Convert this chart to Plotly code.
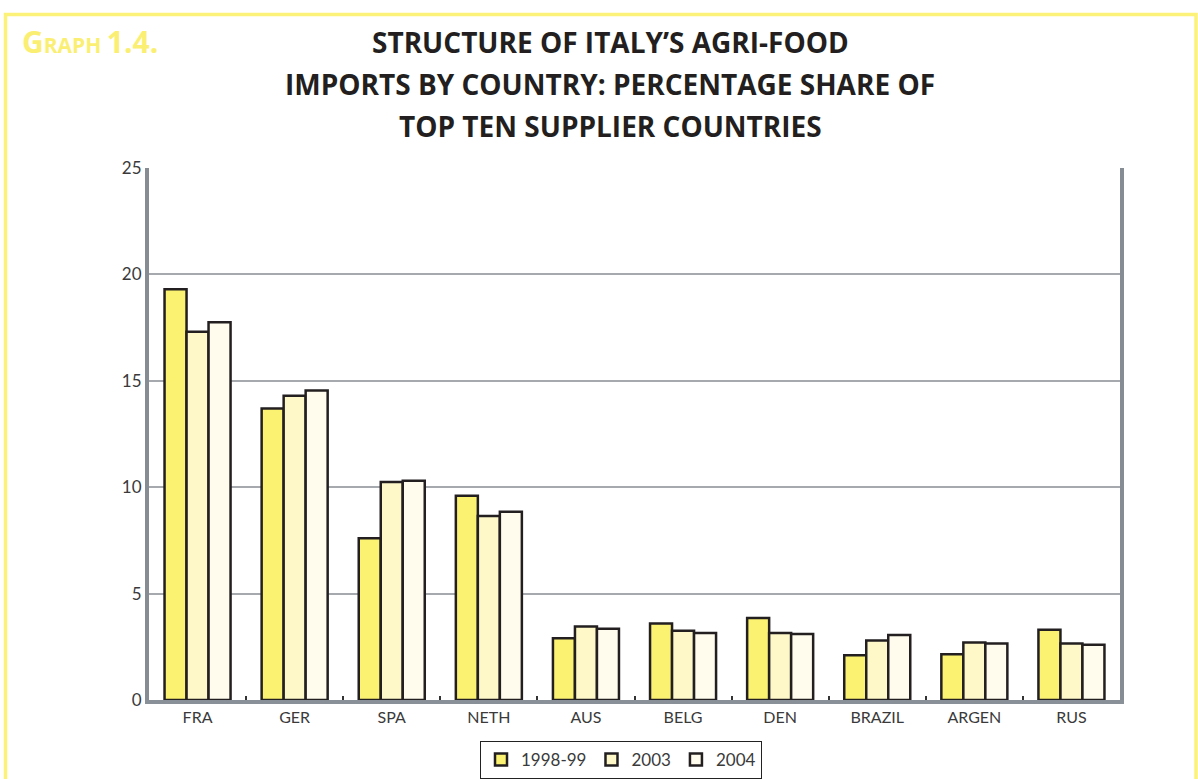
import plotly.graph_objects as go

countries = ["FRA", "GER", "SPA", "NETH", "AUS", "BELG", "DEN", "BRAZIL", "ARGEN", "RUS"]
v_1998_99 = [19.3, 13.7, 7.6, 9.6, 2.9, 3.6, 3.85, 2.1, 2.15, 3.3]
v_2003 = [17.3, 14.3, 10.25, 8.65, 3.45, 3.25, 3.15, 2.8, 2.7, 2.65]
v_2004 = [17.75, 14.55, 10.3, 8.85, 3.35, 3.15, 3.1, 3.05, 2.65, 2.6]
series_names = ["1998-99", "2003", "2004"]
colors = ["#fbf272", "#fef8c8", "#fffcee"]

W, H = 1198, 779
L, R, T, B = 149, 1120, 168, 700


def px_x(p):
    return (p - L) / (R - L)


def px_y(p):
    return (B - p) / (B - T)


fig = go.Figure()
for name, vals, col in zip(series_names, [v_1998_99, v_2003, v_2004], colors):
    fig.add_trace(go.Bar(
        x=countries, y=vals, name=name,
        marker=dict(color=col, line=dict(color="#231f20", width=2.5)),
    ))

font_main = "Lato, 'Open Sans', sans-serif"
font_title = "'Open Sans', Lato, sans-serif"

fig.update_layout(
    width=W, height=H,
    margin=dict(l=L, r=W - R, t=T, b=H - B, autoexpand=False),
    paper_bgcolor="white", plot_bgcolor="white",
    barmode="group", bargap=0.32, bargroupgap=0,
    font=dict(family=font_main, size=16, color="#3a3a3a"),
    showlegend=True,
    legend=dict(
        orientation="h", x=px_x(621), xanchor="center", y=px_y(741), yanchor="top",
        bordercolor="#222", borderwidth=1, bgcolor="white",
        font=dict(size=17, color="#3a3a3a"), itemwidth=30,
        tracegroupgap=0,
    ),
    xaxis=dict(
        showline=True, linecolor="#8a9097", linewidth=4,
        ticks="inside", tickson="boundaries", ticklen=4, tickcolor="#333", tickwidth=1.5,
        tickfont=dict(size=16, color="#3a3a3a"),
        showgrid=False,
    ),
    yaxis=dict(
        range=[0, 25], dtick=5, showline=True, linecolor="#858c93", linewidth=4, mirror=True,
        showgrid=True, gridcolor="#a6aaae", gridwidth=1.5, zeroline=False,
        ticks="", tickfont=dict(size=17, color="#3a3a3a"),
    ),
)

# outer yellow frame
fig.add_shape(type="rect", xref="paper", yref="paper",
              x0=px_x(5.5), x1=px_x(1196), y0=px_y(800), y1=px_y(14.5),
              line=dict(color="#fcf27a", width=3.5), layer="below")

title_lines = ["STRUCTURE OF ITALY’S AGRI-FOOD",
               "IMPORTS BY COUNTRY: PERCENTAGE SHARE OF",
               "TOP TEN SUPPLIER COUNTRIES"]
for line, yy in zip(title_lines, [42, 84, 126]):
    fig.add_annotation(text="<b>" + line + "</b>", xref="paper", yref="paper",
                       x=px_x(610), y=px_y(yy), xanchor="center", yanchor="middle",
                       showarrow=False, font=dict(family=font_title, size=28, color="#231f20"))

fig.add_annotation(
    text="<b><span style='font-size:30px'>G</span>RAPH <span style='font-size:30px'>1.4.</span></b>",
    xref="paper", yref="paper", x=px_x(20), y=px_y(42), xanchor="left", yanchor="middle",
    showarrow=False, font=dict(family=font_title, size=21, color="#fbef73"))

fig.write_html("out.html")
